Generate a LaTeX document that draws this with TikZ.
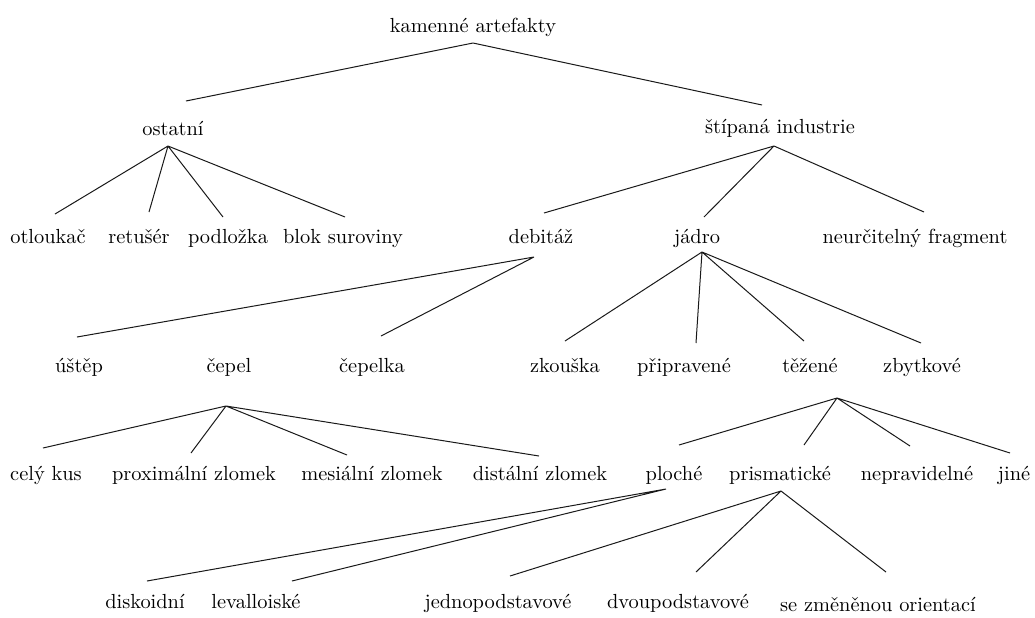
\documentclass[tikz,border=0pt]{standalone}
\usepackage{fontspec}
\usepackage{tikz}

\begin{document}
\begin{tikzpicture}[x=0.5pt,y=-0.5pt]
    \tikzset{lbl/.style={anchor=base,inner sep=0pt,font=\fontsize{10.2}{12}\selectfont}}
    \tikzset{edge/.style={line width=0.5pt,black!90}}
    \useasboundingbox (0,0) rectangle (1035,617);
    \node[lbl] (root) at (473,32) {kamenné artefakty};
    \node[lbl] (ostatni) at (173,135) {ostatní};
    \node[lbl] (stipana) at (780,133) {štípaná industrie};
    \node[lbl] (otloukac) at (48,243) {otloukač};
    \node[lbl] (retuser) at (139,243) {retušér};
    \node[lbl] (podlozka) at (228,243) {podložka};
    \node[lbl] (blok) at (343,243) {blok suroviny};
    \node[lbl] (debitaz) at (541,243) {debitáž};
    \node[lbl] (jadro) at (697,243) {jádro};
    \node[lbl] (neurcit) at (915,243) {neurčitelný fragment};
    \node[lbl] (ustep) at (79,372) {úštěp};
    \node[lbl] (cepel) at (229,372) {čepel};
    \node[lbl] (cepelka) at (372,372) {čepelka};
    \node[lbl] (zkouska) at (565,372) {zkouška};
    \node[lbl] (pripravene) at (684,372) {připravené};
    \node[lbl] (tezene) at (810,372) {těžené};
    \node[lbl] (zbytkove) at (922,372) {zbytkové};
    \node[lbl] (celykus) at (46,480) {celý kus};
    \node[lbl] (proximal) at (194,480) {proximální zlomek};
    \node[lbl] (mesial) at (372,480) {mesiální zlomek};
    \node[lbl] (distal) at (540,480) {distální zlomek};
    \node[lbl] (ploche) at (674,480) {ploché};
    \node[lbl] (prismat) at (780,480) {prismatické};
    \node[lbl] (neprav) at (917,480) {nepravidelné};
    \node[lbl] (jine) at (1014,480) {jiné};
    \node[lbl] (diskoid) at (145,608) {diskoidní};
    \node[lbl] (levall) at (256,608) {levalloiské};
    \node[lbl] (jednopod) at (498,608) {jednopodstavové};
    \node[lbl] (dvoupod) at (678,608) {dvoupodstavové};
    \node[lbl] (zmenena) at (878,611) {se změněnou orientací};
    \coordinate (root-b) at (473,43);
    \coordinate (ostatni-t) at (186,101);
    \coordinate (stipana-t) at (762,105);
    \coordinate (ostatni-b) at (168,146);
    \coordinate (otloukac-t) at (55,214);
    \coordinate (retuser-t) at (149,212);
    \coordinate (podlozka-t) at (223,217);
    \coordinate (blok-t) at (345,217);
    \coordinate (stipana-b) at (774,146);
    \coordinate (debitaz-t) at (544,213);
    \coordinate (jadro-t) at (704,217);
    \coordinate (neurcit-t) at (924,212);
    \coordinate (debitaz-b) at (534,257);
    \coordinate (ustep-t) at (77,337);
    \coordinate (cepelka-t) at (381,336);
    \coordinate (jadro-b) at (702,252);
    \coordinate (zkouska-t) at (565,341);
    \coordinate (pripravene-t) at (696,343);
    \coordinate (tezene-t) at (804,341);
    \coordinate (zbytkove-t) at (921,343);
    \coordinate (cepel-b) at (226,406);
    \coordinate (celykus-t) at (43,448);
    \coordinate (proximal-t) at (191,453);
    \coordinate (mesial-t) at (347,455);
    \coordinate (distal-t) at (539,456);
    \coordinate (tezene-b) at (837,398);
    \coordinate (ploche-t) at (679,445);
    \coordinate (prismat-t) at (804,445);
    \coordinate (neprav-t) at (910,446);
    \coordinate (jine-t) at (1010,453);
    \coordinate (ploche-b) at (666,489);
    \coordinate (diskoid-t) at (147,581);
    \coordinate (levall-t) at (292,581);
    \coordinate (prismat-b) at (781,491);
    \coordinate (jednopod-t) at (510,576);
    \coordinate (dvoupod-t) at (696,572);
    \coordinate (zmenena-t) at (886,572);
    \draw[edge] (root-b) -- (ostatni-t) (root-b) -- (stipana-t);
    \draw[edge] (ostatni-b) -- (otloukac-t) (ostatni-b) -- (retuser-t)
        (ostatni-b) -- (podlozka-t) (ostatni-b) -- (blok-t);
    \draw[edge] (stipana-b) -- (debitaz-t) (stipana-b) -- (jadro-t)
        (stipana-b) -- (neurcit-t);
    \draw[edge] (debitaz-b) -- (ustep-t) (debitaz-b) -- (cepelka-t);
    \draw[edge] (jadro-b) -- (zkouska-t) (jadro-b) -- (pripravene-t)
        (jadro-b) -- (tezene-t) (jadro-b) -- (zbytkove-t);
    \draw[edge] (cepel-b) -- (celykus-t) (cepel-b) -- (proximal-t)
        (cepel-b) -- (mesial-t) (cepel-b) -- (distal-t);
    \draw[edge] (tezene-b) -- (ploche-t) (tezene-b) -- (prismat-t)
        (tezene-b) -- (neprav-t) (tezene-b) -- (jine-t);
    \draw[edge] (ploche-b) -- (diskoid-t) (ploche-b) -- (levall-t);
    \draw[edge] (prismat-b) -- (jednopod-t) (prismat-b) -- (dvoupod-t)
        (prismat-b) -- (zmenena-t);
\end{tikzpicture}
\end{document}
